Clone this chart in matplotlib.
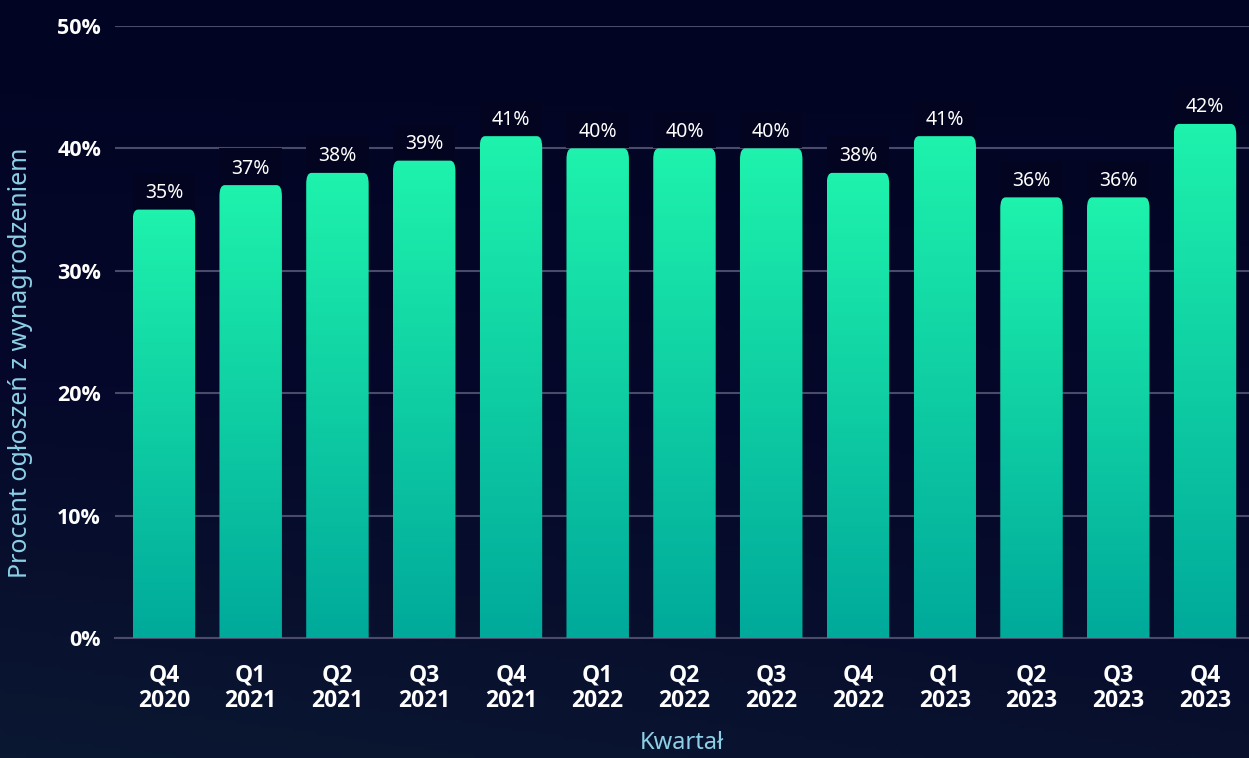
import numpy as np
import matplotlib
matplotlib.use('Agg')
import matplotlib.pyplot as plt
from matplotlib.patches import FancyBboxPatch, Rectangle
from matplotlib.colors import LinearSegmentedColormap

# dane
kwartaly = ['Q4\n2020', 'Q1\n2021', 'Q2\n2021', 'Q3\n2021', 'Q4\n2021', 'Q1\n2022', 'Q2\n2022',
            'Q3\n2022', 'Q4\n2022', 'Q1\n2023', 'Q2\n2023', 'Q3\n2023', 'Q4\n2023']
procent = [35, 37, 38, 39, 41, 40, 40, 40, 38, 41, 36, 36, 42]
y_ticks = [0, 10, 20, 30, 40, 50]

fig = plt.figure(figsize=(12.49, 7.58), dpi=100)

# tlo z gradientem
bg = fig.add_axes([0, 0, 1, 1], zorder=-10)
bg_cmap = LinearSegmentedColormap.from_list('bg', ['#020423', '#05082a', '#0b1832'])
yy, xx = np.mgrid[0:1:200j, 0:1:200j]
grad = yy * 0.85 + (1 - xx) * 0.25 * yy
bg.imshow(grad, cmap=bg_cmap, aspect='auto', extent=[0, 1, 0, 1], origin='upper')
bg.axis('off')

ax = fig.add_axes([0.092, 0.1583, 0.908, 0.8074])
ax.set_facecolor('none')

bar_cmap = LinearSegmentedColormap.from_list('bar', ['#00aa9b', '#1ef2ac'])
width = 0.72
x = np.arange(len(procent))
for i, v in zip(x, procent):
    left = i - width / 2
    clip = FancyBboxPatch((left, -5), width, v + 5,
                          boxstyle='round,pad=0,rounding_size=0.06',
                          mutation_aspect=1 / 0.06 * 0.9,
                          facecolor='none', edgecolor='none', transform=ax.transData)
    ax.add_patch(clip)
    img = ax.imshow(np.linspace(0, 1, 100).reshape(-1, 1), cmap=bar_cmap, origin='lower',
                    extent=[left, left + width, 0, v], aspect='auto', zorder=3)
    img.set_clip_path(clip)
    # ciemne tlo etykiety
    ax.add_patch(Rectangle((left, v), width, 3.0, facecolor='#03041f', edgecolor='none', zorder=2.5))
    ax.text(i, v + 1.35, f'{v}%', ha='center', va='center', color='white',
            fontsize=14, family='Noto Sans', zorder=4)

ax.set_xlim(-0.565, 12.507)
ax.set_ylim(0, 50)
ax.set_yticks(y_ticks)
ax.set_yticklabels([f'{t}%' for t in y_ticks])
ax.set_xticks(x)
ax.set_xticklabels(kwartaly)
for lab in ax.get_xticklabels():
    lab.set_fontsize(16.5)
    lab.set_linespacing(1.1)
for lab in ax.get_yticklabels():
    lab.set_fontsize(15.5)
for lab in ax.get_xticklabels() + ax.get_yticklabels():
    lab.set_color('white')
    lab.set_fontweight('bold')
    lab.set_family('Open Sans')

ax.tick_params(axis='both', length=0)
ax.tick_params(axis='x', pad=18)
ax.tick_params(axis='y', pad=10)
ax.grid(axis='y', color='#4a4b6b', linewidth=1.5, zorder=1)
ax.set_axisbelow(True)
for s in ['top', 'right', 'left']:
    ax.spines[s].set_visible(False)
ax.spines['bottom'].set_color('#4a4b6b')
ax.spines['bottom'].set_linewidth(1.5)

ax.set_ylabel('Procent ogłoszeń z wynagrodzeniem', color='#8ccfe6', fontsize=18,
              family='Noto Sans')
ax.yaxis.set_label_coords(-0.072, 0.45)
ax.set_xlabel('Kwartał', color='#8ccfe6', fontsize=17, family='Noto Sans', labelpad=13)

fig.savefig('out.png', dpi=100)
